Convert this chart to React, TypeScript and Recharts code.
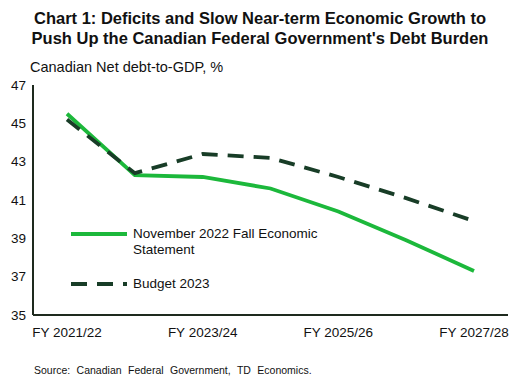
import { LineChart, Line, XAxis, YAxis, Legend } from 'recharts'

const categories = ['FY 2021/22', 'FY 2022/23', 'FY 2023/24', 'FY 2024/25', 'FY 2025/26', 'FY 2026/27', 'FY 2027/28']
const fallStatement = [45.5, 42.3, 42.2, 41.6, 40.4, 38.9, 37.3]
const budget2023 = [45.2, 42.4, 43.4, 43.2, 42.2, 41.1, 39.9]
const yTicks = [35, 37, 39, 41, 43, 45, 47]
const seriesOrder = ['fes', 'budget']

const data = categories.map((name, i) => ({ name, fes: fallStatement[i], budget: budget2023[i] }))

const FONT = '"Liberation Sans", Arial, sans-serif'
const GREEN = '#1cb83b'
const DARK = '#183d27'
const AXIS = '#1e2a1e'

const renderLegend = (props: any) => {
  const items = [...(props.payload || [])].sort(
    (a: any, b: any) => seriesOrder.indexOf(a.dataKey) - seriesOrder.indexOf(b.dataKey)
  )
  return (
    <div style={{ fontFamily: FONT, fontSize: 13.5, color: '#111', lineHeight: '16px' }}>
      {items.map((entry: any, i: number) => (
        <div key={entry.value} style={{ display: 'flex', alignItems: 'flex-start', marginBottom: i === 0 ? 18 : 0 }}>
          <svg width={62} height={16} style={{ flex: 'none' }}>
            <line
              x1={0}
              x2={56}
              y1={8}
              y2={8}
              stroke={entry.color}
              strokeWidth={3.8}
              strokeDasharray={entry.payload.strokeDasharray}
            />
          </svg>
          <span style={{ width: 200 }}>{entry.value}</span>
        </div>
      ))}
    </div>
  )
}

function App() {
  return (
    <div style={{ position: 'absolute', left: 0, top: 0, width: 516, height: 385, background: '#fff', fontFamily: FONT }}>
      <div
        style={{
          position: 'absolute',
          left: 0,
          top: 8,
          width: 520,
          textAlign: 'center',
          fontWeight: 'bold',
          fontSize: 16.5,
          lineHeight: '20px',
          color: '#111',
        }}
      >
        Chart 1: Deficits and Slow Near-term Economic Growth to
        <br />
        Push Up the Canadian Federal Government's Debt Burden
      </div>
      <div style={{ position: 'absolute', left: 30, top: 59, fontSize: 14.5, color: '#111' }}>
        Canadian Net debt-to-GDP, %
      </div>
      <LineChart width={516} height={385} data={data} margin={{ top: 85, right: 8, bottom: 40, left: 0 }}>
        <XAxis
          dataKey="name"
          height={30}
          interval={1}
          padding={{ left: 34, right: 34 }}
          tickSize={0}
          tickMargin={12}
          axisLine={{ stroke: AXIS, strokeWidth: 2 }}
          tick={{ fontSize: 13.5, fill: '#111', fontFamily: FONT }}
        />
        <YAxis
          width={33}
          domain={[35, 47]}
          ticks={yTicks}
          tickSize={0}
          tickMargin={7}
          axisLine={{ stroke: AXIS, strokeWidth: 2 }}
          tick={{ fontSize: 13.5, fill: '#111', fontFamily: FONT }}
        />
        <Legend
          content={renderLegend}
          layout="vertical"
          align="center"
          verticalAlign="middle"
          wrapperStyle={{ position: 'absolute', left: 71, top: 226, width: 270 }}
        />
        <Line
          type="linear"
          dataKey="fes"
          name="November 2022 Fall Economic Statement"
          stroke={GREEN}
          strokeWidth={3.8}
          dot={false}
          isAnimationActive={false}
        />
        <Line
          type="linear"
          dataKey="budget"
          name="Budget 2023"
          stroke={DARK}
          strokeWidth={3.8}
          strokeDasharray="16 10"
          dot={false}
          isAnimationActive={false}
        />
      </LineChart>
      <div style={{ position: 'absolute', left: 34, top: 364, fontSize: 10.5, wordSpacing: 3.5, color: '#111' }}>
        Source: Canadian Federal Government, TD Economics.
      </div>
    </div>
  )
}

export default App
